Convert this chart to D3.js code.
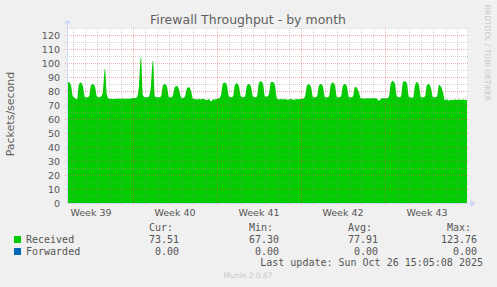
<!DOCTYPE html>
<html>
<head>
<meta charset="utf-8">
<script src="https://cdn.jsdelivr.net/npm/d3@7"></script>
<style>
html,body{margin:0;padding:0;background:#f0f0f0;}
svg{display:block;}
text{white-space:pre;}
</style>
</head>
<body>
<svg id="chart" width="497" height="287"></svg>
<script>
// ---- data ----
const chartTitle = "Firewall Throughput - by month";
const yAxisLabel = "Packets/second";
const seriesStart = "2025-09-23T12:00:00Z";   // first sample
const seriesEnd = "2025-10-26T20:00:00Z";     // last sample / right edge
const stepHours = 4;
// Received packets/second, one value every 4 hours
const receivedValues = [
  86, 86.5, 84,                          // Tue Sep 23 (12h-20h)
  76, 75, 74, 85, 86, 83,                // Wed Sep 24
  75.5, 75.5, 76, 84, 85, 83,            // Thu Sep 25
  76, 75.5, 76, 80, 96, 77,              // Fri Sep 26
  74.5, 74.5, 74.3, 74.5, 74.4, 74.5,    // Sat Sep 27
  74.5, 74.6, 74.4, 74.5, 74.5, 74.6,    // Sun Sep 28
  75, 75, 75.5, 84, 104.5, 77,           // Mon Sep 29
  75.5, 75.5, 76, 84, 102, 76,           // Tue Sep 30
  75.5, 75.5, 76, 84, 85, 83,            // Wed Oct 1
  75.5, 75.5, 77, 83, 83.5, 81,          // Thu Oct 2
  75.5, 75, 76, 82, 82.6, 80,            // Fri Oct 3
  74.5, 74.2, 74, 74.3, 74, 74.5,        // Sat Oct 4
  74, 73.5, 74.3, 72.5, 74, 74,          // Sun Oct 5
  74.5, 74.8, 77, 85.5, 86, 84,          // Mon Oct 6
  76, 75.5, 76, 84.5, 85.5, 83,          // Tue Oct 7
  76, 75.5, 76, 84, 85, 83,              // Wed Oct 8
  76, 75.5, 76, 86, 87, 85,              // Thu Oct 9
  76, 76, 78, 86.5, 86.5, 84,            // Fri Oct 10
  74.5, 74, 74.3, 74, 74.2, 73.8,        // Sat Oct 11
  74, 74.2, 73.8, 74, 74.3, 74,          // Sun Oct 12
  74.5, 74.5, 76, 84, 84.8, 83,          // Mon Oct 13
  75.5, 75.5, 76, 84, 85, 83,            // Tue Oct 14
  75.5, 75.5, 76, 85, 86, 84,            // Wed Oct 15
  75.5, 75.5, 76, 84, 85, 83,            // Thu Oct 16
  75.5, 75.5, 76, 83, 82, 79,            // Fri Oct 17
  74.8, 74.8, 74.6, 74.8, 74.7, 74.8,    // Sat Oct 18
  74.8, 74.8, 74.5, 73, 74.5, 74.8,      // Sun Oct 19
  74.8, 74.8, 76, 86, 87.1, 85,          // Mon Oct 20
  76, 75.5, 76, 86.5, 87, 85,            // Tue Oct 21
  75.5, 75.5, 75, 84, 86.5, 84,          // Wed Oct 22
  75.5, 75.5, 76, 84.5, 84.8, 82,        // Thu Oct 23
  75.5, 75.5, 76, 84.3, 83, 79,          // Fri Oct 24
  73.5, 74, 73.2, 73.8, 73.5, 74,        // Sat Oct 25
  73.5, 74, 73.5, 74, 73.6, 73.5         // Sun Oct 26
];
const yTicks = [0,10,20,30,40,50,60,70,80,90,100,110,120];
const seriesNames = ["Received", "Forwarded"];
const seriesColors = ["#00cc00", "#0066b3"];
const statHeaders = ["Cur:", "Min:", "Avg:", "Max:"];
const receivedStats = ["73.51", "67.30", "77.91", "123.76"];
const forwardedStats = ["0.00", "0.00", "0.00", "0.00"];
const lastUpdate = "Last update: Sun Oct 26 15:05:08 2025";
const watermark = "RRDTOOL / TOBI OETIKER";
const versionText = "Munin 2.0.67";

// ---- layout ----
const L = 67, R = 467, T = 28, B = 203;
const svg = d3.select("#chart");
svg.append("rect").attr("width",497).attr("height",287).attr("fill","#f0f0f0");
svg.append("rect").attr("x",L).attr("y",T).attr("width",R-L).attr("height",B-T).attr("fill","#ffffff");

const t0 = new Date(seriesStart), t1 = new Date(seriesEnd);
// Munin month view: 800 hours across 400 px, ending at t1
const x = d3.scaleUtc().domain([new Date(+t1 - 800*3600e3), t1]).range([L, R]);
const y = d3.scaleLinear().domain([0,125]).range([B, T]);

const data = receivedValues.map((v,i)=>({t:new Date(+t0 + i*stepHours*3600e3), v}));

// area
const area = d3.area().x(d=>x(d.t)).y0(y(0)).y1(d=>y(d.v)).curve(d3.curveMonotoneX);
svg.append("path").datum(data).attr("d",area).attr("fill",seriesColors[0]);

// grid
const minorCol = "rgba(150,150,150,0.4)", majorCol = "rgba(222,79,79,0.45)";
const g = svg.append("g").attr("shape-rendering","crispEdges");
d3.range(0,126,5).forEach(v=>{
  if (v===0) return;
  const yy = Math.round(y(v))+0.5;
  g.append("line").attr("x1",L-2).attr("x2",R+2).attr("y1",yy).attr("y2",yy)
    .attr("stroke", v%10===0 ? majorCol : minorCol).attr("stroke-dasharray","1,1");
});
const days = d3.utcDay.range(x.domain()[0], x.domain()[1]);
days.forEach(d=>{
  const xx = Math.round(x(d))+0.5;
  if (xx <= L) return;
  const major = d.getUTCDay()===1;
  g.append("line").attr("x1",xx).attr("x2",xx).attr("y1",T).attr("y2",B+2)
    .attr("stroke", major ? majorCol : minorCol).attr("stroke-dasharray","1,1");
});

// axes
const axisCol = "#cfd6f8";
svg.append("line").attr("x1",L+0.5).attr("x2",L+0.5).attr("y1",B+0.5).attr("y2",T-6).attr("stroke",axisCol).attr("shape-rendering","crispEdges");
svg.append("line").attr("x1",L).attr("x2",R+4).attr("y1",B+0.5).attr("y2",B+0.5).attr("stroke",axisCol).attr("shape-rendering","crispEdges");
svg.append("path").attr("d",`M${L-3+0.5},${T-5} L${L+0.5},${T-8} L${L+3+0.5},${T-5} Z`).attr("fill",axisCol).attr("stroke",axisCol).attr("stroke-width",0.8);
svg.append("path").attr("d",`M${R+4},${B+0.5-3} L${R+8},${B+0.5} L${R+4},${B+0.5+3} Z`).attr("fill",axisCol).attr("stroke",axisCol).attr("stroke-width",0.8);

// y tick labels
const tickFont = "DejaVu Sans, sans-serif";
svg.append("g").selectAll("text").data(yTicks).join("text")
  .attr("x", L-7).attr("y", d=>y(d)+3.5).attr("text-anchor","end")
  .attr("font-family",tickFont).attr("font-size",9.5).attr("fill","#555")
  .text(d=>d);

// x labels: week labels centered in each week
const mondays = d3.utcMonday.range(d3.utcMonday.offset(x.domain()[0],-1), x.domain()[1]);
mondays.forEach(m=>{
  const c = new Date(+m + 3.5*86400e3);
  const cx = x(c);
  if (cx < L || cx > R) return;
  const wk = d3.utcFormat("%V")(m);
  svg.append("text").attr("x",cx).attr("y",216).attr("text-anchor","middle")
    .attr("font-family",tickFont).attr("font-size",9.5).attr("fill","#555")
    .text("Week " + wk);
});

// title
svg.append("text").attr("x",248).attr("y",24).attr("text-anchor","middle")
  .attr("font-family",tickFont).attr("font-size",12.5).attr("fill","#606060").text(chartTitle);

// y axis label
svg.append("text").attr("transform","translate(14,114) rotate(-90)").attr("text-anchor","middle")
  .attr("font-family",tickFont).attr("font-size",11).attr("fill","#606060").text(yAxisLabel);

// watermark
svg.append("text").attr("transform","translate(485,53) rotate(90)").attr("text-anchor","middle")
  .attr("font-family",tickFont).attr("font-size",7.5).attr("fill","#c8c8c8").text(watermark);

// legend
const mono = "DejaVu Sans Mono, monospace";
const colRight = [179, 279, 378, 477];
statHeaders.forEach((h,i)=>{
  svg.append("text").attr("x",colRight[i]-6).attr("y",231).attr("text-anchor","end")
    .attr("font-family",mono).attr("font-size",10).attr("fill","#555").text(h);
});
[receivedStats, forwardedStats].forEach((row,r)=>{
  const by = 243 + r*12;
  svg.append("rect").attr("x",14).attr("y",by-7).attr("width",7).attr("height",7).attr("fill",seriesColors[r]);
  svg.append("text").attr("x",26).attr("y",by).attr("font-family",mono).attr("font-size",10).attr("fill","#555").text(seriesNames[r]);
  row.forEach((v,i)=>{
    svg.append("text").attr("x",colRight[i]).attr("y",by).attr("text-anchor","end")
      .attr("font-family",mono).attr("font-size",10).attr("fill","#555").text(v);
  });
});
svg.append("text").attr("x",483).attr("y",266).attr("text-anchor","end")
  .attr("font-family",mono).attr("font-size",10).attr("fill","#555").text(lastUpdate);
svg.append("text").attr("x",248).attr("y",278).attr("text-anchor","middle")
  .attr("font-family",tickFont).attr("font-size",7.5).attr("fill","#c8c8c8").text(versionText);
</script>
</body>
</html>
